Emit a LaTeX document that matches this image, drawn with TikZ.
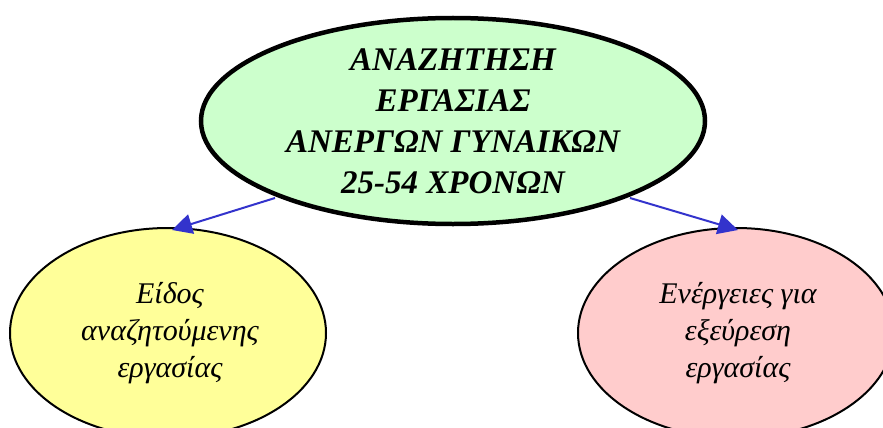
\documentclass[tikz,border=0pt]{standalone}
\usepackage{fontspec}
\setmainfont{Liberation Serif}
\usetikzlibrary{arrows.meta}
\definecolor{topfill}{HTML}{CCFFCC}
\definecolor{leftfill}{HTML}{FFFF99}
\definecolor{rightfill}{HTML}{FFCCCC}
\definecolor{arrowblue}{HTML}{3333CC}
\tikzset{
  subell/.style={draw=black, line width=2pt},
  conn/.style={draw=arrowblue, line width=2pt, -{Triangle[length=20pt,width=20pt]}},
  lbl/.style={align=center, font=\fontsize{30}{37}\selectfont\itshape},
  toplbl/.style={align=center, font=\fontsize{33}{41}\selectfont\itshape\bfseries},
}
\begin{document}
\begin{tikzpicture}[x=1pt,y=-1pt]
\useasboundingbox (0,0) rectangle (883,428);
\begin{scope}
\clip (0,0) rectangle (883,428);
\filldraw[subell, fill=leftfill] (168,333) ellipse [x radius=158, y radius=105];
\filldraw[subell, fill=rightfill] (736,333) ellipse [x radius=158, y radius=105];
\filldraw[draw=black, line width=4.5pt, fill=topfill] (453,121) ellipse [x radius=252, y radius=103];
\end{scope}
\node[toplbl] (top) at (453,121) {ΑΝΑΖΗΤΗΣΗ\\ΕΡΓΑΣΙΑΣ\\ΑΝΕΡΓΩΝ ΓΥΝΑΙΚΩΝ\\25-54 ΧΡΟΝΩΝ};
\node[lbl] (left) at (170,333) {Είδος\\αναζητούμενης\\εργασίας};
\node[lbl] (right) at (738,333) {Ενέργειες για\\εξεύρεση\\εργασίας};
\coordinate (tl) at (275,198);
\coordinate (tr) at (630,198);
\coordinate (al) at (172,230);
\coordinate (ar) at (738,230);
\draw[conn] (tl) -- (al);
\draw[conn] (tr) -- (ar);
\end{tikzpicture}
\end{document}
